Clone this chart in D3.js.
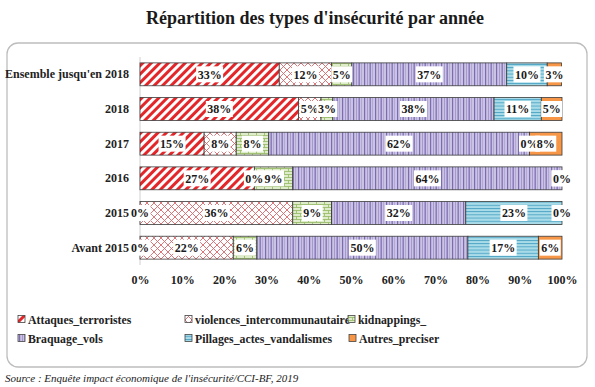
<!DOCTYPE html>
<html>
<head>
<meta charset="utf-8">
<script src="https://cdn.jsdelivr.net/npm/d3@7"></script>
<style>
    body { margin: 0; background: #fff; }
    svg { display: block; font-family: "Liberation Serif", "Times New Roman", serif; }
</style>
</head>
<body>
<div id="chart"></div>
<script>
// --- Data ---
const categories = ["Ensemble jusqu'en 2018", "2018", "2017", "2016", "2015", "Avant 2015"];
const seriesNames = ["Attaques_terroristes", "violences_intercommunautaire", "kidnappings_", "Braquage_vols", "Pillages_actes_vandalismes", "Autres_preciser"];
const attaques    = [33.0, 37.6, 15.2, 27.1, 0, 0];
const violences   = [12.4, 5.3, 7.6, 0, 36.2, 22.1];
const kidnappings = [4.8, 2.8, 7.7, 9.1, 9.2, 5.6];
const braquage    = [36.7, 38.2, 61.8, 63.8, 31.8, 50.0];
const pillages    = [9.6, 11.2, 0, 0, 22.8, 16.7];
const autres      = [3.4, 4.9, 7.7, 0, 0, 5.6];
const xTicks = [0, 10, 20, 30, 40, 50, 60, 70, 80, 90, 100];

const seriesValues = [attaques, violences, kidnappings, braquage, pillages, autres];

// --- Setup ---
const width = 595, height = 387;
const svg = d3.select("#chart").append("svg")
    .attr("width", width)
    .attr("height", height);

const defs = svg.append("defs");

// patterns
function stripePattern(id) {
    const p = defs.append("pattern").attr("id", id)
        .attr("patternUnits", "userSpaceOnUse")
        .attr("width", 6).attr("height", 6)
        .attr("patternTransform", "rotate(45)");
    p.append("rect").attr("width", 6).attr("height", 6).attr("fill", "#fff");
    p.append("rect").attr("width", 3).attr("height", 6).attr("fill", "#e3262a");
}

function crossPattern(id) {
    const p = defs.append("pattern").attr("id", id)
        .attr("patternUnits", "userSpaceOnUse")
        .attr("width", 7).attr("height", 7);
    p.append("rect").attr("width", 7).attr("height", 7).attr("fill", "#fff");
    p.append("path").attr("d", "M0,0L7,7M7,0L0,7")
        .attr("stroke", "#d6696c").attr("stroke-width", 0.9).attr("fill", "none");
}

function brickPattern(id) {
    const p = defs.append("pattern").attr("id", id)
        .attr("patternUnits", "userSpaceOnUse")
        .attr("width", 8).attr("height", 6);
    p.append("rect").attr("width", 8).attr("height", 6).attr("fill", "#dfeccb");
    p.append("path").attr("d", "M0,0.5H8M0,3.5H8M0.5,0.5V3.5M4.5,3.5V6")
        .attr("stroke", "#93b861").attr("stroke-width", 0.8).attr("fill", "none");
}

function verticalPattern(id) {
    const p = defs.append("pattern").attr("id", id)
        .attr("patternUnits", "userSpaceOnUse")
        .attr("width", 11).attr("height", 4);
    p.append("rect").attr("width", 11).attr("height", 4).attr("fill", "#cbc3e4");
    p.append("rect").attr("x", 1).attr("width", 1.2).attr("height", 4).attr("fill", "#7b6cb0");
    p.append("rect").attr("x", 4).attr("width", 0.8).attr("height", 4).attr("fill", "#9a8dc9");
    p.append("rect").attr("x", 6.5).attr("width", 1.4).attr("height", 4).attr("fill", "#8576b8");
    p.append("rect").attr("x", 9.3).attr("width", 0.7).attr("height", 4).attr("fill", "#a79bd0");
}

function horizontalPattern(id) {
    const p = defs.append("pattern").attr("id", id)
        .attr("patternUnits", "userSpaceOnUse")
        .attr("width", 4).attr("height", 3.2);
    p.append("rect").attr("width", 4).attr("height", 3.2).attr("fill", "#a9dbe8");
    p.append("rect").attr("y", 0).attr("width", 4).attr("height", 0.9).attr("fill", "#4ba3c3");
}

stripePattern("pAtt");
crossPattern("pVio");
brickPattern("pKid");
verticalPattern("pBra");
horizontalPattern("pPil");

const fills = ["url(#pAtt)", "url(#pVio)", "url(#pKid)", "url(#pBra)", "url(#pPil)", "#f79646"];

// --- Frame & Title ---
svg.append("rect")
    .attr("x", 7).attr("y", 43)
    .attr("width", 580).attr("height", 324)
    .attr("rx", 11)
    .attr("fill", "#fff")
    .attr("stroke", "#bdbdbd")
    .attr("stroke-width", 1.3);

svg.append("text")
    .attr("x", 315).attr("y", 24)
    .attr("text-anchor", "middle")
    .attr("font-size", 18)
    .attr("font-weight", "bold")
    .attr("fill", "#1a1a1a")
    .text("Répartition des types d'insécurité par année");

// --- Scales ---
const x = d3.scaleLinear().domain([0, 100]).range([140, 562]);
const y = d3.scaleBand().domain(categories).range([57, 265]).paddingInner(0.34).paddingOuter(0.17);

// stacked data
const rows = categories.map((c, i) => {
    const r = { cat: c };
    seriesNames.forEach((s, j) => r[s] = seriesValues[j][i]);
    return r;
});
const stacked = d3.stack().keys(seriesNames)(rows);

// --- Axes ---
svg.append("line")
    .attr("x1", x(0)).attr("x2", x(0))
    .attr("y1", 57).attr("y2", 265)
    .attr("stroke", "#d0d0d0");

const xAxis = svg.append("g")
    .attr("transform", "translate(0,265)")
    .call(d3.axisBottom(x).tickValues(xTicks).tickSize(0).tickPadding(10).tickFormat(d => d + "%"));
xAxis.select(".domain").remove();
xAxis.selectAll("text")
    .attr("font-family", "Liberation Serif, serif")
    .attr("font-size", 12)
    .attr("font-weight", "bold")
    .attr("fill", "#222");

const yAxis = svg.append("g")
    .attr("transform", "translate(129,0)")
    .call(d3.axisLeft(y).tickSize(0).tickPadding(0));
yAxis.select(".domain").remove();
yAxis.selectAll("text")
    .attr("font-family", "Liberation Serif, serif")
    .attr("font-size", 12)
    .attr("font-weight", "bold")
    .attr("fill", "#222");

// --- Bars ---
const layers = svg.append("g").selectAll("g")
    .data(stacked)
    .join("g")
    .attr("fill", (d, i) => fills[i]);

layers.selectAll("rect")
    .data(d => d)
    .join("rect")
    .attr("x", d => x(d[0]))
    .attr("y", d => y(d.data.cat))
    .attr("width", d => x(d[1]) - x(d[0]))
    .attr("height", y.bandwidth())
    .attr("stroke", "#3a3a3a")
    .attr("stroke-width", 0.8);

// --- Labels ---
const labelG = svg.append("g");
stacked.forEach(layer => {
    layer.forEach(d => {
        const cx = x((d[0] + d[1]) / 2);
        const cy = y(d.data.cat) + y.bandwidth() / 2;
        const g = labelG.append("g");
        const t = g.append("text")
            .attr("x", cx).attr("y", cy)
            .attr("dy", "0.35em")
            .attr("text-anchor", "middle")
            .attr("font-size", 12)
            .attr("font-weight", "bold")
            .attr("fill", "#1a1a1a")
            .text(Math.round(d[1] - d[0]) + "%");
        const bb = t.node().getBBox();
        g.insert("rect", "text")
            .attr("x", bb.x - 1.5).attr("y", cy - 8)
            .attr("width", bb.width + 3).attr("height", 16)
            .attr("fill", "#fff");
    });
});

// --- Legend ---
const legendPos = [[18, 320], [185, 320], [348, 320], [18, 339], [185, 339], [349, 339]];
const legend = svg.append("g").selectAll("g")
    .data(seriesNames)
    .join("g")
    .attr("transform", (d, i) => `translate(${legendPos[i][0]},${legendPos[i][1]})`);

legend.append("rect")
    .attr("x", 0).attr("y", -4.5)
    .attr("width", 7).attr("height", 7)
    .attr("fill", (d, i) => fills[i])
    .attr("stroke", "#444")
    .attr("stroke-width", 0.8);

legend.append("text")
    .attr("x", 10).attr("y", 0)
    .attr("dy", "0.35em")
    .attr("font-size", 11.8)
    .attr("font-weight", "bold")
    .attr("fill", "#222")
    .text(d => d);

// --- Source ---
svg.append("text")
    .attr("x", 5).attr("y", 382)
    .attr("font-size", 11)
    .attr("font-style", "italic")
    .attr("fill", "#222")
    .text("Source : Enquête impact économique de l'insécurité/CCI-BF, 2019");
</script>
</body>
</html>
